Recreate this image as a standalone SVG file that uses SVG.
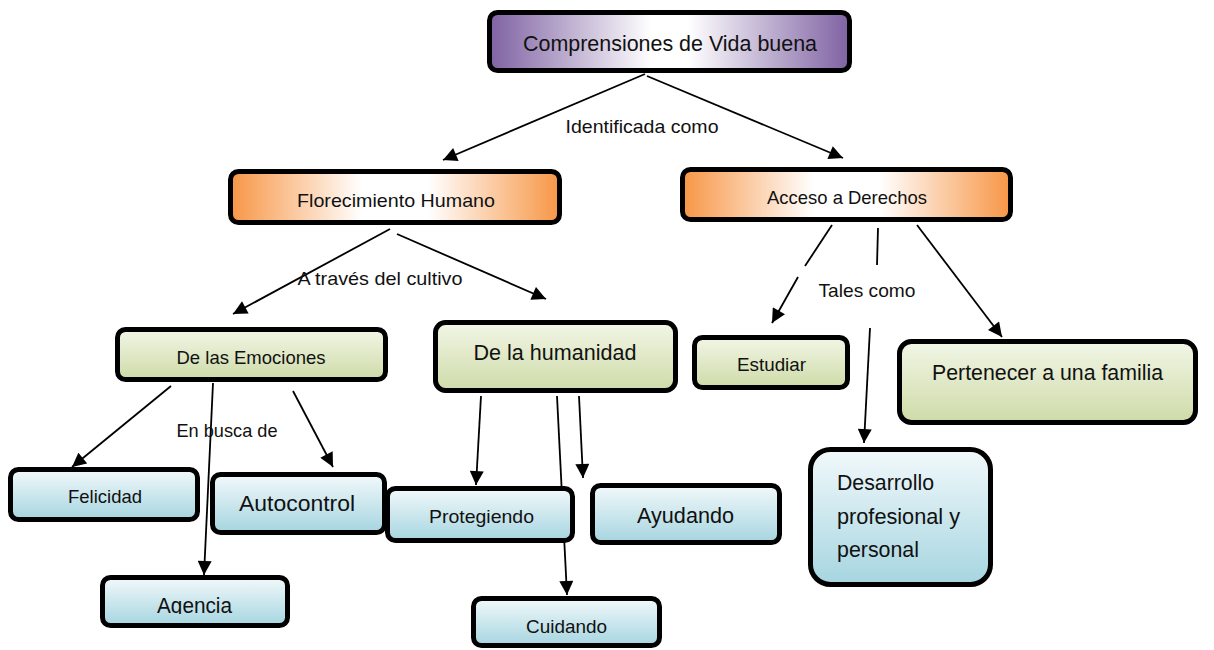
<svg xmlns="http://www.w3.org/2000/svg" width="1214" height="650" viewBox="0 0 1214 650">
<style>
.box{stroke:#000;stroke-width:5}
.t{font-family:"Liberation Sans",Arial,sans-serif;fill:#111;text-anchor:middle}
.s{font-size:18.5px}
.b{font-size:22px}
.c{stroke:#000;stroke-width:1.8;fill:none}
.a{marker-end:url(#arr)}
</style>
<defs>
<marker id="arr" viewBox="0 0 10 10" refX="10" refY="5" markerUnits="userSpaceOnUse" markerWidth="15" markerHeight="14" orient="auto">
<path d="M0,0 L10,5 L0,10 z" fill="#000"/>
</marker>
<linearGradient id="gPur" x1="0" y1="0" x2="1" y2="0">
<stop offset="0" stop-color="#7f62a3"/><stop offset="0.45" stop-color="#ffffff"/><stop offset="0.55" stop-color="#ffffff"/><stop offset="1" stop-color="#7f62a3"/>
</linearGradient>
<linearGradient id="gOr" x1="0" y1="0" x2="1" y2="0">
<stop offset="0" stop-color="#f79646"/><stop offset="0.4" stop-color="#ffffff"/><stop offset="0.6" stop-color="#ffffff"/><stop offset="1" stop-color="#f79646"/>
</linearGradient>
<linearGradient id="gGr" x1="0" y1="0" x2="0" y2="1">
<stop offset="0" stop-color="#f2f6e6"/><stop offset="1" stop-color="#cedba8"/>
</linearGradient>
<linearGradient id="gBl" x1="0" y1="0" x2="0" y2="1">
<stop offset="0" stop-color="#f2f9fb"/><stop offset="1" stop-color="#a6d5e0"/>
</linearGradient>
<clipPath id="clipAg"><rect x="100" y="575" width="190" height="39"/></clipPath>
</defs>
<rect width="1214" height="650" fill="#fff"/>
<g id="connectors">
<line class="c a" x1="645" y1="74" x2="443" y2="160"/>
<line class="c a" x1="647" y1="76" x2="843" y2="158"/>
<line class="c a" x1="390" y1="229" x2="233" y2="314"/>
<line class="c a" x1="397" y1="234" x2="546" y2="299"/>
<line class="c" x1="832" y1="225" x2="805" y2="266"/>
<line class="c a" x1="798" y1="277" x2="772" y2="323"/>
<line class="c" x1="878" y1="228" x2="877" y2="265"/>
<line class="c a" x1="870" y1="328" x2="864" y2="443"/>
<line class="c a" x1="917" y1="225" x2="1002" y2="337"/>
<line class="c a" x1="171" y1="386" x2="72" y2="467"/>
<line class="c a" x1="213" y1="383" x2="204" y2="575"/>
<line class="c a" x1="293" y1="391" x2="333" y2="467"/>
<line class="c a" x1="481" y1="396" x2="476" y2="485"/>
<line class="c a" x1="557" y1="396" x2="567" y2="595"/>
<line class="c a" x1="579" y1="396" x2="583" y2="478"/>
<text class="t s" x="642" y="133" textLength="153" lengthAdjust="spacingAndGlyphs">Identificada como</text>
<text class="t s" x="380" y="285" textLength="165" lengthAdjust="spacingAndGlyphs">A través del cultivo</text>
<text class="t s" x="867" y="297" textLength="97" lengthAdjust="spacingAndGlyphs">Tales como</text>
<text class="t s" x="227" y="437" textLength="101" lengthAdjust="spacingAndGlyphs">En busca de</text>
</g>
<g id="n-comprensiones">
<rect class="box" x="489.5" y="12.5" width="360" height="58" rx="8" fill="url(#gPur)"/>
<text class="t b" x="670" y="51" textLength="294" lengthAdjust="spacingAndGlyphs">Comprensiones de Vida buena</text>
</g>
<g id="n-florecimiento">
<rect class="box" x="230.5" y="171.5" width="329" height="51" rx="8" fill="url(#gOr)"/>
<text class="t s" x="396" y="207" textLength="198" lengthAdjust="spacingAndGlyphs">Florecimiento Humano</text>
</g>
<g id="n-acceso">
<rect class="box" x="682.5" y="169.5" width="328" height="50" rx="8" fill="url(#gOr)"/>
<text class="t s" x="847" y="204" textLength="160" lengthAdjust="spacingAndGlyphs">Acceso a Derechos</text>
</g>
<g id="n-emociones">
<rect class="box" x="117.5" y="329.5" width="268" height="50" rx="8" fill="url(#gGr)"/>
<text class="t s" x="251" y="364" textLength="149" lengthAdjust="spacingAndGlyphs">De las Emociones</text>
</g>
<g id="n-humanidad">
<rect class="box" x="435.5" y="322.5" width="240" height="68" rx="10" fill="url(#gGr)"/>
<text class="t b" x="555" y="360" textLength="163" lengthAdjust="spacingAndGlyphs">De la humanidad</text>
</g>
<g id="n-estudiar">
<rect class="box" x="694.5" y="337.5" width="153" height="50" rx="8" fill="url(#gGr)"/>
<text class="t s" x="771.5" y="371" textLength="69" lengthAdjust="spacingAndGlyphs">Estudiar</text>
</g>
<g id="n-pertenecer">
<rect class="box" x="899.5" y="341.5" width="296" height="81" rx="12" fill="url(#gGr)"/>
<text class="t b" x="1047.5" y="380" textLength="231" lengthAdjust="spacingAndGlyphs">Pertenecer a una familia</text>
</g>
<g id="n-desarrollo">
<rect class="box" x="810.5" y="449.5" width="180" height="135" rx="20" fill="url(#gBl)"/>
<text class="t b" x="837" y="490" style="text-anchor:start" textLength="97" lengthAdjust="spacingAndGlyphs">Desarrollo</text>
<text class="t b" x="837" y="524" style="text-anchor:start" textLength="123" lengthAdjust="spacingAndGlyphs">profesional y</text>
<text class="t b" x="837" y="557" style="text-anchor:start" textLength="82" lengthAdjust="spacingAndGlyphs">personal</text>
</g>
<g id="n-felicidad">
<rect class="box" x="10.5" y="469.5" width="187" height="50" rx="8" fill="url(#gBl)"/>
<text class="t s" x="105" y="503" textLength="74" lengthAdjust="spacingAndGlyphs">Felicidad</text>
</g>
<g id="n-autocontrol">
<rect class="box" x="212.5" y="474.5" width="172" height="58" rx="8" fill="url(#gBl)"/>
<text class="t b" x="297" y="511" textLength="116" lengthAdjust="spacingAndGlyphs">Autocontrol</text>
</g>
<g id="n-agencia">
<rect class="box" x="102.5" y="577.5" width="185" height="48" rx="8" fill="url(#gBl)"/>
<text class="t b" x="194.5" y="613" textLength="75" lengthAdjust="spacingAndGlyphs" clip-path="url(#clipAg)">Agencia</text>
</g>
<g id="n-protegiendo">
<rect class="box" x="387.5" y="488.5" width="185" height="52" rx="8" fill="url(#gBl)"/>
<text class="t s" x="481.5" y="523" textLength="105" lengthAdjust="spacingAndGlyphs">Protegiendo</text>
</g>
<g id="n-ayudando">
<rect class="box" x="592.5" y="485.5" width="187" height="57" rx="8" fill="url(#gBl)"/>
<text class="t b" x="685.5" y="523" textLength="97" lengthAdjust="spacingAndGlyphs">Ayudando</text>
</g>
<g id="n-cuidando">
<rect class="box" x="473.5" y="598.5" width="186" height="47" rx="8" fill="url(#gBl)"/>
<text class="t s" x="566.5" y="633" textLength="81" lengthAdjust="spacingAndGlyphs">Cuidando</text>
</g>
</svg>
